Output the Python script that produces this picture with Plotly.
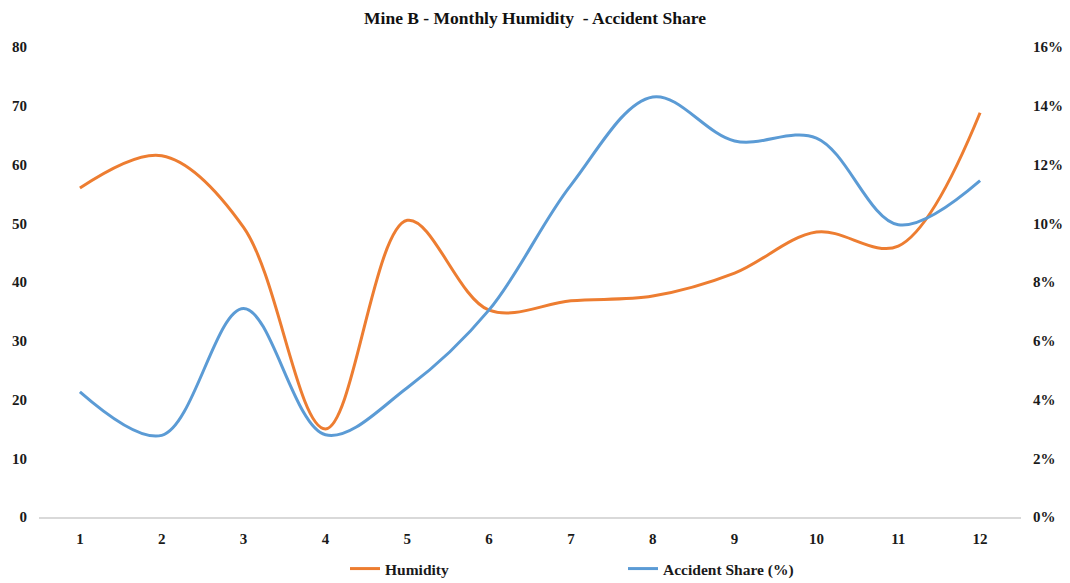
import plotly.graph_objects as go

# Monthly data for Mine B
months = [1, 2, 3, 4, 5, 6, 7, 8, 9, 10, 11, 12]
humidity = [56.0, 61.5, 49.3, 15.0, 50.5, 35.2, 36.8, 37.6, 41.5, 48.5, 46.1, 68.8]
accident_share = [4.26, 2.78, 7.1, 2.8, 4.4, 7.05, 11.3, 14.3, 12.8, 12.9, 9.95, 11.45]  # percent

font_family = "Liberation Serif, Times New Roman, serif"
orange = "#ED7D31"
blue = "#5B9BD5"
month_labels = [str(m) for m in months]

fig = go.Figure()
fig.add_trace(go.Scatter(
    x=month_labels, y=humidity, name="<b>Humidity</b>",
    mode="lines", line=dict(color=orange, width=3, shape="spline", smoothing=1.0),
    yaxis="y",
))
fig.add_trace(go.Scatter(
    x=month_labels, y=[v / 100 for v in accident_share], name="<b>Accident Share (%)</b>",
    mode="lines", line=dict(color=blue, width=3, shape="spline", smoothing=1.0),
    yaxis="y2",
))

fig.update_layout(
    width=1070, height=583,
    margin=dict(l=39, r=49, t=47, b=66, autoexpand=False),
    paper_bgcolor="white", plot_bgcolor="white",
    font=dict(family=font_family, size=15, color="#1a1a1a"),
    title=dict(text="<b>Mine B - Monthly Humidity  - Accident Share</b>",
               x=0.5, xref="container", xanchor="center",
               y=1 - 18 / 583, yref="container", yanchor="middle",
               font=dict(size=17.5, family=font_family, color="#111")),
    xaxis=dict(type="category", range=[-0.5, 11.5], showgrid=False, showline=True,
               linecolor="#d9d9d9", linewidth=1.5, ticks="", automargin=False,
               tickfont=dict(size=15, family=font_family), ticklabelstandoff=7,
               tickprefix="<b>", ticksuffix="</b>"),
    yaxis=dict(range=[0, 80], dtick=10, showgrid=False, zeroline=False, showline=False,
               ticks="", automargin=False, tickfont=dict(size=15, family=font_family),
               ticklabelstandoff=11, tickprefix="<b>", ticksuffix="</b>"),
    yaxis2=dict(range=[0, 0.16], dtick=0.02, tickformat=".0%", overlaying="y", side="right",
                showgrid=False, zeroline=False, showline=False, ticks="", automargin=False,
                tickfont=dict(size=15, family=font_family), ticklabelstandoff=11,
                tickprefix="<b>", ticksuffix="</b>"),
    legend=dict(orientation="h", x=(345 - 39) / 982, xanchor="left",
                yref="container", y=1 - 552 / 583, yanchor="top",
                entrywidth=233, entrywidthmode="pixels",
                font=dict(size=15.5, family=font_family)),
    showlegend=True,
)

fig.write_html("out.html")
